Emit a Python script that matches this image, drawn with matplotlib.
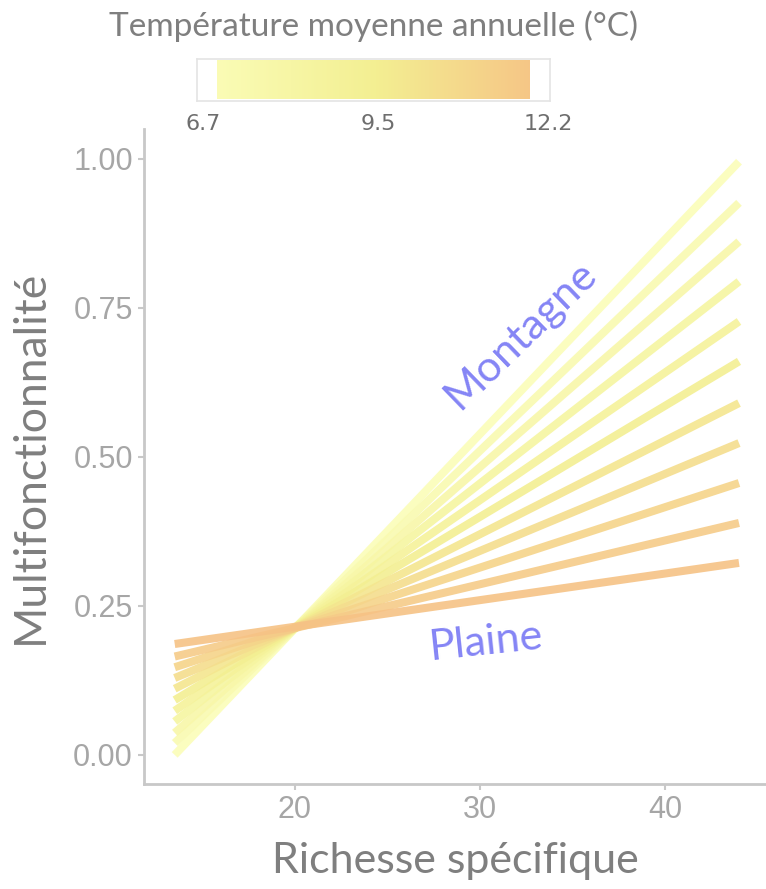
import numpy as np
import matplotlib.pyplot as plt
from matplotlib.colors import LinearSegmentedColormap

# temperature of each fitted line (°C), cold -> warm
temps = [6.7, 7.25, 7.8, 8.35, 8.9, 9.45, 10.0, 10.55, 11.1, 11.65, 12.2]
# multifunctionality at the two ends of the richness range
x_start, x_end = 13.5, 44.0
y_start = [0.00, 0.02, 0.037, 0.056, 0.074, 0.092, 0.111, 0.129, 0.147, 0.165, 0.186]
y_end = [0.995, 0.926, 0.861, 0.794, 0.727, 0.660, 0.590, 0.523, 0.456, 0.389, 0.322]

xticks = [20, 30, 40]
yticks = [0.0, 0.25, 0.5, 0.75, 1.0]
cbar_ticks = [6.7, 9.5, 12.2]

cmap = LinearSegmentedColormap.from_list("temp", ["#FBFDB8", "#F3EF92", "#F6C285"])
tmin, tmax = 6.7, 12.2

grey = "#7F7F7F"
tick_grey = "#A6A6A6"
spine_grey = "#C8C8C8"

fig = plt.figure(figsize=(7.66, 8.89), dpi=100)
ax = fig.add_axes([0.188, 0.118, 0.812, 0.737])

for t, y0, y1 in zip(temps, y_start, y_end):
    c = cmap((t - tmin) / (tmax - tmin))
    ax.plot([x_start, x_end], [y0, y1], color=c, lw=5.8, alpha=0.9, solid_capstyle="butt")

ax.set_xlim(11.84, 45.46)
ax.set_ylim(-0.049, 1.05)
ax.set_xticks(xticks)
ax.set_yticks(yticks)
ax.set_xticklabels([str(v) for v in xticks])
ax.set_yticklabels(["%.2f" % v for v in yticks])
ax.tick_params(colors=spine_grey, labelcolor=tick_grey, labelsize=22, length=4, width=1.5, pad=4)
for lab in ax.get_xticklabels() + ax.get_yticklabels():
    lab.set_family("Liberation Sans")
for s in ["top", "right"]:
    ax.spines[s].set_visible(False)
for s in ["left", "bottom"]:
    ax.spines[s].set_color(spine_grey)
    ax.spines[s].set_linewidth(2)

ax.set_xlabel("Richesse spécifique", fontsize=31, color=grey, family="Lato", labelpad=12)
ax.set_ylabel("Multifonctionnalité", fontsize=32, color=grey, family="Lato", labelpad=16)

ax.text(32.2, 0.705, "Montagne", rotation=44, fontsize=31, color="#8585F5",
        family="Lato", ha="center", va="center")
ax.text(30.3, 0.19, "Plaine", rotation=6, fontsize=31, color="#8585F5",
        family="Lato", ha="center", va="center")

# colour legend
fig.text(0.488, 0.970, "Température moyenne annuelle (°C)", fontsize=24, color=grey,
         family="Lato", ha="center", va="center")
cax = fig.add_axes([0.257, 0.886, 0.461, 0.048])
grad = np.linspace(6.92, 11.91, 256).reshape(1, -1)
cax.imshow(grad, cmap=cmap, vmin=tmin, vmax=tmax, aspect="auto",
           extent=[6.92, 11.91, 0.05, 0.95])
cax.set_xlim(6.60, 12.23)
cax.set_ylim(0, 1)
cax.set_yticks([])
cax.set_xticks(cbar_ticks)
cax.set_xticklabels([str(v) for v in cbar_ticks])
cax.tick_params(length=0, labelsize=16, labelcolor="#6E6E6E", pad=9)
for lab in cax.get_xticklabels():
    lab.set_family("DejaVu Sans")
for s in cax.spines.values():
    s.set_color("#E4E4E4")
    s.set_linewidth(1.2)

fig.savefig("out.png", dpi=100)
